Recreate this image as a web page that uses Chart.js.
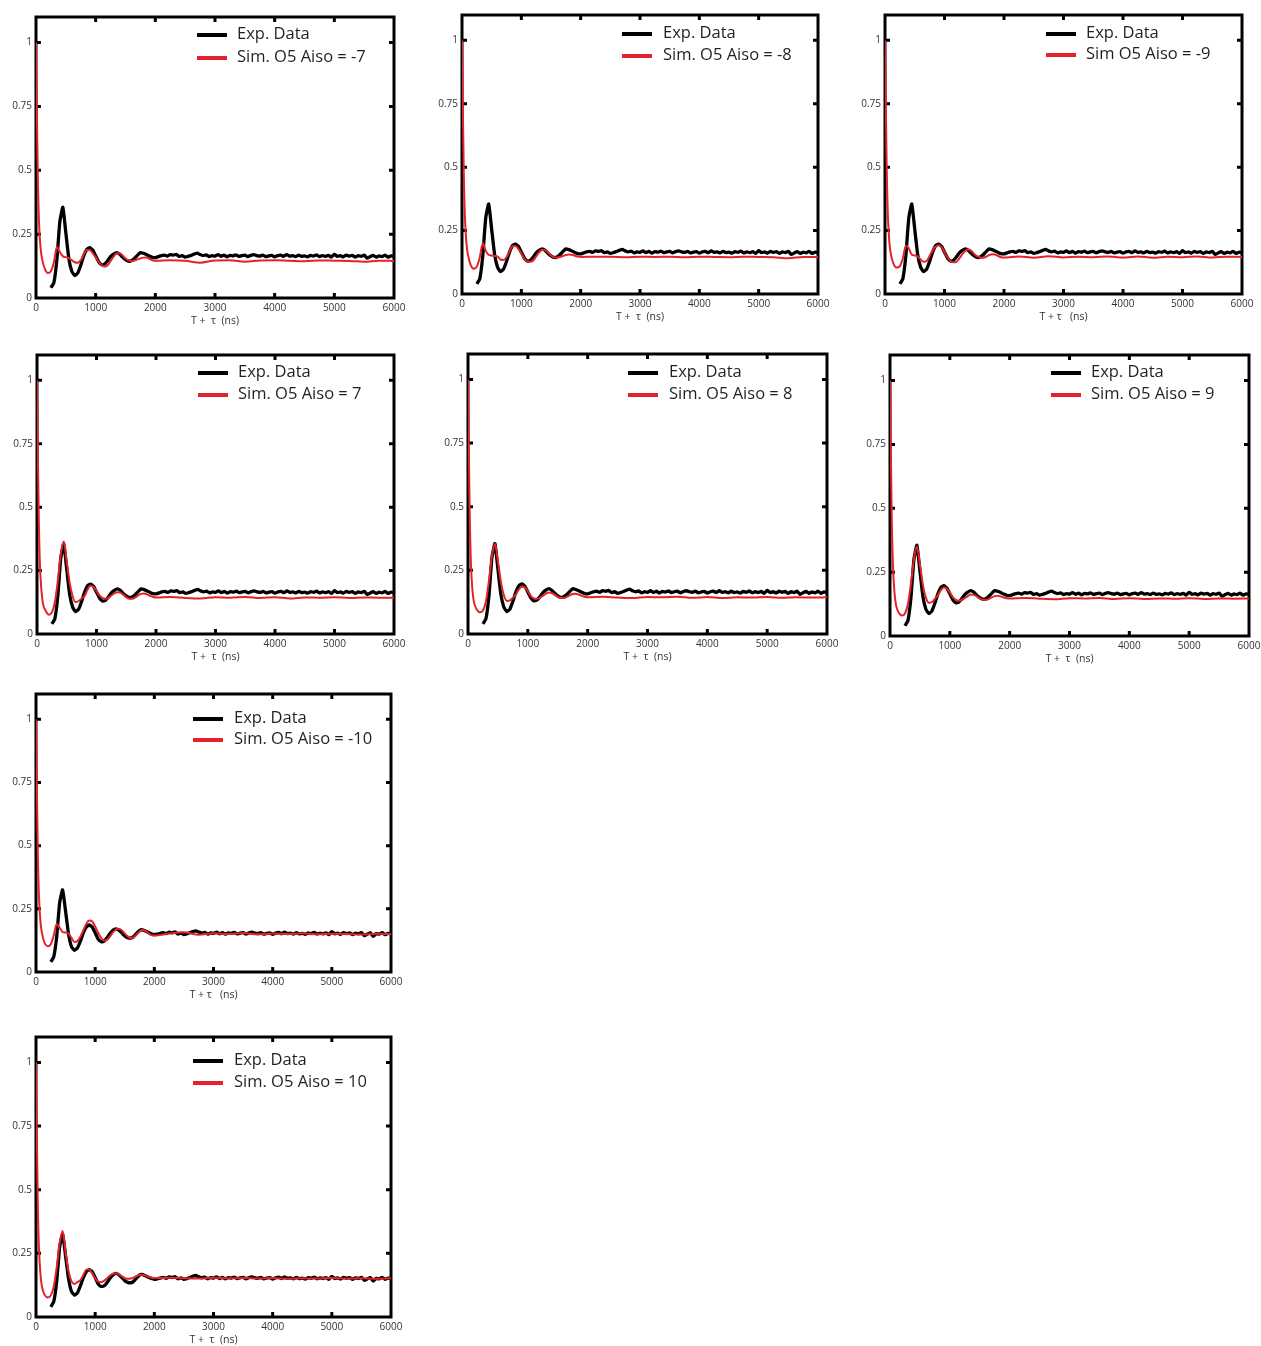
<!DOCTYPE html>
<html>
<head>
<meta charset="utf-8">
<script src="https://cdn.jsdelivr.net/npm/chart.js@4.4.0/dist/chart.umd.min.js"></script>
<style>
html, body { margin:0; padding:0; background:#fff; overflow:hidden; }
body { width:1261px; height:1346px; position:relative; }
canvas { position:absolute; }
</style>
</head>
<body>
<script>
// axis ticks
var xTicks = [0, 1000, 2000, 3000, 4000, 5000, 6000];
var yTicks = [0, 0.25, 0.5, 0.75, 1];
var yTickLabels = ['0', '0.25', '0.5', '0.75', '1'];

// experimental traces (time in ns)
var tExp = [250,300,350,400,450,500,550,600,650,700,750,800,850,900,950,1000,1050,1100,1150,1200,
  1250,1300,1350,1400,1450,1500,1550,1600,1650,1700,1750,1800,1850,1900,1950,2000,
  2050,2100,2150,2200,2250,2300,2350,2400,2450,2500,2550,2600,2650,2700,2750,2800,2850,2900,2950,3000,
  3050,3100,3150,3200,3250,3300,3350,3400,3450,3500,3550,3600,3650,3700,3750,3800,3850,3900,3950,4000,
  4050,4100,4150,4200,4250,4300,4350,4400,4450,4500,4550,4600,4650,4700,4750,4800,4850,4900,4950,5000,
  5050,5100,5150,5200,5250,5300,5350,5400,5450,5500,5550,5600,5650,5700,5750,5800,5850,5900,5950,6000];

var expA = [0.040,0.060,0.150,0.300,0.355,0.255,0.155,0.105,0.088,0.098,0.128,0.165,0.190,0.197,0.188,0.165,0.142,0.130,0.133,0.146,
  0.162,0.172,0.178,0.172,0.160,0.150,0.144,0.146,0.155,0.167,0.178,0.175,0.170,0.164,0.159,0.158,
  0.162,0.166,0.168,0.164,0.170,0.168,0.171,0.163,0.166,0.160,0.163,0.167,0.172,0.176,0.170,0.166,0.169,0.162,0.166,0.164,
  0.170,0.163,0.168,0.161,0.167,0.165,0.169,0.163,0.166,0.168,0.162,0.167,0.170,0.166,0.164,0.168,0.162,0.165,0.167,0.161,
  0.166,0.168,0.163,0.170,0.164,0.166,0.162,0.168,0.163,0.165,0.161,0.167,0.164,0.169,0.162,0.166,0.163,0.167,0.160,0.171,
  0.163,0.166,0.161,0.168,0.164,0.167,0.160,0.166,0.163,0.168,0.156,0.162,0.167,0.160,0.165,0.162,0.168,0.160,0.165,0.163];

var expB = [0.040,0.060,0.140,0.275,0.325,0.240,0.150,0.100,0.086,0.095,0.122,0.155,0.178,0.186,0.178,0.155,0.130,0.120,0.122,0.135,
  0.152,0.165,0.171,0.166,0.155,0.143,0.136,0.134,0.140,0.153,0.165,0.167,0.162,0.156,0.151,0.148,
  0.150,0.153,0.156,0.152,0.158,0.155,0.159,0.150,0.154,0.148,0.151,0.155,0.160,0.163,0.158,0.154,0.157,0.150,0.155,0.153,
  0.158,0.151,0.156,0.150,0.155,0.153,0.157,0.151,0.154,0.156,0.150,0.155,0.158,0.154,0.152,0.156,0.150,0.153,0.155,0.149,
  0.154,0.157,0.151,0.158,0.152,0.154,0.150,0.156,0.151,0.153,0.149,0.155,0.152,0.157,0.150,0.154,0.151,0.155,0.148,0.160,
  0.151,0.154,0.149,0.156,0.152,0.155,0.148,0.154,0.151,0.156,0.144,0.150,0.155,0.141,0.152,0.150,0.156,0.148,0.153,0.151];

// simulated traces
var tSim = [0,15,30,50,75,100,
  150,200,250,300,350,400,450,500,550,600,650,700,750,800,850,900,950,1000,1050,1100,1150,1200,1250,1300,
  1350,1400,1450,1500,1550,1600,1650,1700,1750,1800,1850,1900,1950,2000,
  2250,2500,2750,3000,3250,3500,3750,4000,4250,4500,4750,5000,5250,5500,5750,6000];

var simM7 = [1.0,0.72,0.48,0.30,0.20,0.155,
  0.113,0.098,0.105,0.140,0.200,0.180,0.163,0.160,0.156,0.148,0.140,0.138,0.148,0.170,0.188,0.188,0.176,0.160,0.142,0.128,0.123,0.128,0.145,0.162,
  0.174,0.175,0.167,0.155,0.147,0.145,0.147,0.151,0.155,0.158,0.159,0.153,0.148,0.146,
  0.148,0.146,0.138,0.147,0.148,0.142,0.147,0.148,0.146,0.144,0.147,0.146,0.145,0.142,0.146,0.145];

var simM8 = [1.0,0.72,0.48,0.30,0.20,0.155,
  0.112,0.100,0.108,0.145,0.200,0.170,0.154,0.152,0.150,0.147,0.136,0.134,0.145,0.168,0.188,0.189,0.178,0.160,0.140,0.128,0.127,0.132,0.148,0.164,
  0.174,0.173,0.164,0.152,0.145,0.144,0.146,0.150,0.154,0.156,0.155,0.151,0.148,0.146,
  0.147,0.147,0.145,0.147,0.146,0.147,0.145,0.147,0.146,0.145,0.147,0.146,0.145,0.141,0.146,0.146];

var simM9 = [1.0,0.72,0.48,0.30,0.20,0.155,
  0.115,0.104,0.110,0.140,0.190,0.180,0.155,0.152,0.148,0.135,0.127,0.130,0.150,0.172,0.187,0.192,0.185,0.165,0.145,0.130,0.125,0.127,0.140,0.157,
  0.170,0.175,0.170,0.158,0.148,0.144,0.143,0.147,0.153,0.157,0.156,0.150,0.145,0.144,
  0.148,0.143,0.149,0.144,0.147,0.145,0.148,0.144,0.148,0.143,0.147,0.145,0.148,0.144,0.147,0.146];

var simP7 = [1.0,0.70,0.45,0.27,0.17,0.12,
  0.090,0.076,0.085,0.125,0.210,0.315,0.365,0.285,0.200,0.148,0.126,0.130,0.140,0.150,0.175,0.190,0.185,0.170,0.152,0.142,0.139,0.142,0.152,0.160,
  0.165,0.163,0.155,0.145,0.139,0.139,0.144,0.152,0.158,0.160,0.156,0.150,0.146,0.144,
  0.146,0.142,0.140,0.145,0.143,0.146,0.142,0.145,0.140,0.144,0.143,0.145,0.142,0.144,0.143,0.143];

var simP8 = [1.0,0.70,0.45,0.27,0.17,0.125,
  0.095,0.085,0.092,0.128,0.210,0.305,0.355,0.285,0.205,0.152,0.130,0.132,0.142,0.155,0.175,0.186,0.183,0.168,0.150,0.140,0.138,0.142,0.150,0.158,
  0.163,0.161,0.154,0.146,0.141,0.141,0.146,0.152,0.157,0.158,0.155,0.150,0.146,0.144,
  0.146,0.143,0.141,0.145,0.144,0.146,0.142,0.145,0.141,0.144,0.143,0.145,0.142,0.144,0.143,0.144];

var simP9 = [1.0,0.70,0.45,0.27,0.17,0.122,
  0.090,0.080,0.088,0.125,0.205,0.300,0.350,0.280,0.200,0.150,0.130,0.133,0.145,0.160,0.180,0.190,0.186,0.170,0.152,0.141,0.138,0.141,0.148,0.156,
  0.162,0.161,0.155,0.147,0.142,0.141,0.145,0.151,0.156,0.158,0.155,0.151,0.148,0.147,
  0.149,0.146,0.144,0.148,0.147,0.149,0.145,0.148,0.145,0.147,0.146,0.148,0.145,0.147,0.146,0.147];

var simM10 = [1.0,0.72,0.48,0.30,0.20,0.155,
  0.112,0.102,0.110,0.145,0.190,0.175,0.158,0.156,0.152,0.135,0.119,0.122,0.140,0.165,0.190,0.204,0.200,0.180,0.155,0.135,0.125,0.127,0.140,0.157,
  0.168,0.171,0.165,0.152,0.141,0.135,0.137,0.148,0.160,0.167,0.162,0.153,0.146,0.144,
  0.152,0.157,0.147,0.153,0.150,0.154,0.149,0.152,0.150,0.153,0.149,0.151,0.150,0.148,0.151,0.150];

var simP10 = [1.0,0.70,0.45,0.27,0.17,0.12,
  0.086,0.077,0.085,0.120,0.195,0.290,0.338,0.255,0.180,0.140,0.130,0.137,0.145,0.165,0.186,0.187,0.172,0.152,0.139,0.137,0.142,0.152,0.163,0.170,
  0.172,0.168,0.160,0.153,0.150,0.151,0.155,0.161,0.165,0.166,0.163,0.158,0.155,0.153,
  0.154,0.152,0.151,0.154,0.152,0.153,0.151,0.153,0.150,0.152,0.151,0.153,0.151,0.152,0.150,0.152];

var expLabel = 'Exp. Data';
var FONT = '"Open Sans", "Noto Sans", sans-serif';
var RED = '#e3222b';

// panel layout: plot box [left, top, right, bottom] on the page and legend offsets
var panels = [
  { box:[36,15,394,298],    exp:expA, sim:simM7,  label:'Sim. O5 Aiso = -7',  title:'T +  \u03c4  (ns)', leg:[161,201,18,41] },
  { box:[462,13,818,294],   exp:expA, sim:simM8,  label:'Sim. O5 Aiso = -8',  title:'T +  \u03c4  (ns)', leg:[160,201,19,41] },
  { box:[885,13,1242,294],  exp:expA, sim:simM9,  label:'Sim O5 Aiso = -9',   title:'T + \u03c4   (ns)', leg:[161,201,19,40] },
  { box:[37,353,394,634],   exp:expA, sim:simP7,  label:'Sim. O5 Aiso = 7',   title:'T +  \u03c4  (ns)', leg:[161,201,18,40] },
  { box:[468,352,827,634],  exp:expA, sim:simP8,  label:'Sim. O5 Aiso = 8',   title:'T +  \u03c4  (ns)', leg:[160,201,19,41] },
  { box:[890,353,1249,636], exp:expA, sim:simP9,  label:'Sim. O5 Aiso = 9',   title:'T +  \u03c4  (ns)', leg:[161,201,18,40] },
  { box:[36,692,391,972],   exp:expB, sim:simM10, label:'Sim. O5 Aiso = -10', title:'T + \u03c4   (ns)', leg:[157,198,25,46] },
  { box:[36,1035,391,1317], exp:expB, sim:simP10, label:'Sim. O5 Aiso = 10',  title:'T +  \u03c4  (ns)', leg:[157,198,24,46] }
];

var AXW = 40, AXH = 30, PADT = 8, PADR = 16;

function pts(t, v) {
  return t.map(function(x, i) { return { x: x, y: v[i] }; });
}

// frame with inward ticks, drawn under the traces
var boxPlugin = {
  id: 'boxPlugin',
  beforeDatasetsDraw: function(chart) {
    var ctx = chart.ctx, a = chart.chartArea;
    var xs = chart.scales.x, ys = chart.scales.y;
    ctx.save();
    ctx.strokeStyle = '#000';
    ctx.lineWidth = 3;
    ctx.strokeRect(a.left, a.top, a.right - a.left, a.bottom - a.top);
    ctx.beginPath();
    xTicks.forEach(function(v) {
      if (v <= 0 || v >= 6000) return;
      var px = xs.getPixelForValue(v);
      ctx.moveTo(px, a.bottom); ctx.lineTo(px, a.bottom - 5);
      ctx.moveTo(px, a.top); ctx.lineTo(px, a.top + 5);
    });
    yTicks.forEach(function(v) {
      if (v <= 0) return;
      var py = ys.getPixelForValue(v);
      ctx.moveTo(a.left, py); ctx.lineTo(a.left + 5, py);
      ctx.moveTo(a.right, py); ctx.lineTo(a.right - 5, py);
    });
    ctx.stroke();
    ctx.restore();
  }
};

var legendPlugin = {
  id: 'miniLegend',
  afterDraw: function(chart, args, opts) {
    var ctx = chart.ctx, a = chart.chartArea, leg = opts.leg;
    if (!leg) return;
    ctx.save();
    ctx.font = '16.5px ' + FONT;
    ctx.textBaseline = 'middle';
    ctx.textAlign = 'left';
    chart.data.datasets.forEach(function(ds, i) {
      var y = a.top + (i === 0 ? leg[2] : leg[3]);
      ctx.strokeStyle = ds.borderColor;
      ctx.lineWidth = 4;
      ctx.beginPath();
      ctx.moveTo(a.left + leg[0], y);
      ctx.lineTo(a.left + leg[0] + 30, y);
      ctx.stroke();
      ctx.fillStyle = '#231f20';
      ctx.fillText(ds.label, a.left + leg[1], y - 1);
    });
    ctx.restore();
  }
};

panels.forEach(function(p) {
  var L = p.box[0], T = p.box[1], R = p.box[2], B = p.box[3];
  var cv = document.createElement('canvas');
  cv.width = (R - L) + AXW + PADR;
  cv.height = (B - T) + PADT + AXH;
  cv.style.left = (L - AXW) + 'px';
  cv.style.top = (T - PADT) + 'px';
  document.body.appendChild(cv);

  new Chart(cv, {
    type: 'line',
    data: {
      datasets: [
        { label: expLabel, data: pts(tExp, p.exp), borderColor: '#000', borderWidth: 3.3,
          pointRadius: 0, tension: 0.15, fill: false, order: 1, borderJoinStyle: 'round' },
        { label: p.label, data: pts(tSim, p.sim), borderColor: RED, borderWidth: 2,
          pointRadius: 0, cubicInterpolationMode: 'monotone', fill: false, order: 0 }
      ]
    },
    options: {
      responsive: false,
      animation: false,
      devicePixelRatio: 1,
      events: [],
      layout: { padding: { left: 0, top: PADT, right: PADR, bottom: 0 } },
      plugins: {
        legend: { display: false },
        tooltip: { enabled: false },
        miniLegend: { leg: p.leg }
      },
      scales: {
        x: {
          type: 'linear', min: 0, max: 6000,
          afterBuildTicks: function(s) { s.ticks = xTicks.map(function(v) { return { value: v }; }); },
          afterFit: function(s) { s.height = AXH; },
          grid: { display: false, drawTicks: false, tickLength: 0 },
          border: { display: false },
          ticks: { font: { family: FONT, size: 10 }, color: '#333', padding: 4, maxRotation: 0,
                   autoSkip: false, callback: function(v) { return String(v); } },
          title: { display: true, text: p.title, font: { family: FONT, size: 10.5 }, color: '#333',
                   padding: { top: 0, bottom: 1 } }
        },
        y: {
          type: 'linear', min: 0, max: 1.1,
          afterBuildTicks: function(s) { s.ticks = yTicks.map(function(v) { return { value: v }; }); },
          afterFit: function(s) { s.width = AXW; },
          grid: { display: false, drawTicks: false, tickLength: 0 },
          border: { display: false },
          ticks: { font: { family: FONT, size: 10 }, color: '#333', padding: 4, autoSkip: false,
                   callback: function(v) { var i = yTicks.indexOf(v); return i >= 0 ? yTickLabels[i] : ''; } }
        }
      }
    },
    plugins: [boxPlugin, legendPlugin]
  });
});
</script>
</body>
</html>
